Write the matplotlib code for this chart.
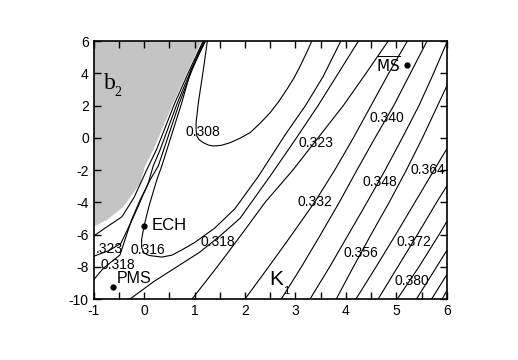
import matplotlib
matplotlib.use("Agg")
import matplotlib.pyplot as plt

plt.rcParams['font.family'] = ['Liberation Sans', 'DejaVu Sans']
plt.rcParams['axes.unicode_minus'] = False

# ---- data ----
x_ticks = [-1, 0, 1, 2, 3, 4, 5, 6]
y_ticks = [-10, -8, -6, -4, -2, 0, 2, 4, 6]

# forbidden (gray) region boundary
gray_x = [-1, 1.14, 0.58, 0.18, 0.02, -0.08, -0.41, -0.74, -1.0]
gray_y = [6, 6, 2.17, -0.76, -1.75, -2.83, -4.28, -5.1, -5.52]

# contour 0.308 (U shaped valley)
c308_x = [1.254, 1.175, 1.075, 1.03, 1.03, 1.044, 1.09, 1.175, 1.27, 1.373, 1.53, 1.704, 1.9, 2.10,
          2.3, 2.498, 2.67, 2.83, 2.97, 3.095, 3.21, 3.325]
c308_y = [6.0, 4.245, 2.17, 0.93, 0.5, 0.109, -0.12, -0.307, -0.45, -0.512, -0.47, -0.307, -0.03, 0.313,
          0.9, 1.553, 2.25, 3.0, 3.7, 4.45, 5.2, 6.0]

# contour 0.316 (through ECH)
c316_x = [1.22, 0.93, 0.746, 0.45, 0.35, 0.25, 0.1, 0.0, -0.05, -0.05, 0.0, 0.1, 0.35, 0.55, 0.75, 1.0,
          1.4, 1.8, 2.27, 2.8, 3.2, 3.55, 3.9]
c316_y = [6.0, 4.2, 2.17, -0.76, -1.75, -2.62, -4.2, -5.45, -6.3, -6.8, -7.15, -7.3, -7.4, -7.28, -6.95, -6.5,
          -5.6, -4.4, -2.37, 0.2, 2.0, 3.8, 6.0]

# contour 0.318, left piece
c318a_x = [-1.0, -0.81, -0.48, -0.25, -0.08, 0.117, 0.28, 0.70, 0.95, 1.2]
c318a_y = [-8.8, -8.1, -7.27, -5.1, -3.86, -2.62, -1.75, 2.17, 4.2, 6.0]
# contour 0.318, right piece
c318b_x = [-0.28, 0.2, 0.7, 1.1, 1.5, 1.9, 2.5, 3.0, 3.45, 3.85, 4.25]
c318b_y = [-10.0, -8.9, -7.9, -7.1, -6.1, -5.0, -2.37, -0.1, 2.0, 4.0, 6.0]

# contour 0.323, left piece
c323a_x = [-1.0, -0.7, -0.46, -0.21, 0.08, 0.18, 0.315, 0.66, 0.93, 1.18]
c323a_y = [-7.35, -7.0, -6.55, -4.9, -2.83, -1.75, -0.76, 2.17, 4.2, 6.0]
# contour 0.323, right piece
c323b_x = [0.95, 1.45, 1.93, 2.4, 2.95, 3.45, 3.95, 4.4, 4.84]
c323b_y = [-10, -8, -6, -4, -2, 0, 2, 4, 6]

# outer unlabeled line next to the gray region
c330_x = [-1.0, -0.75, -0.44, -0.2, 0.05, 0.25, 0.61, 0.9, 1.17]
c330_y = [-6.09, -5.55, -4.9, -3.7, -2.0, -0.7, 2.17, 4.2, 6.0]

c332_x = [2.00, 2.47, 2.93, 3.38, 3.78, 4.15, 4.5, 4.85, 5.22]
c332_y = [-10, -8, -6, -4, -2, 0, 2, 4, 6]

c340_x = [2.72, 3.12, 3.5, 3.87, 4.22, 4.58, 4.95, 5.28, 5.61]
c340_y = [-10, -8, -6, -4, -2, 0, 2, 4, 6]

c348_x = [3.29, 3.68, 4.05, 4.42, 4.78, 5.12, 5.45, 5.74, 6.0]
c348_y = [-10, -8, -6, -4, -2, 0, 2, 4, 5.9]

c356_x = [3.81, 4.15, 4.5, 4.86, 5.2, 5.52, 5.82, 6.0]
c356_y = [-10, -8, -6, -4, -2, 0, 2, 3.2]

c364_x = [4.20, 4.6, 4.99, 5.37, 5.75, 6.0]
c364_y = [-10, -8, -6, -4, -2, -0.7]

c372_x = [4.64, 5.03, 5.42, 5.8, 6.0]
c372_y = [-10, -8, -6, -4, -3.0]

c380_x = [5.02, 5.45, 5.85, 6.0]
c380_y = [-10, -8, -6, -5.2]

c388_x = [5.40, 5.8, 6.0]
c388_y = [-10, -8, -7.0]

c396_x = [5.70, 6.0]
c396_y = [-10, -8.5]

c404_x = [5.91, 6.0]
c404_y = [-10, -9.5]

# contour labels: text, x, y
label_text = ["0.308", "0.316", ".323", "0.318", "0.318", "0.323", "0.332", "0.340",
              "0.348", "0.356", "0.364", "0.372", "0.380"]
label_x = [1.16, 0.08, -0.69, -0.528, 1.456, 3.41, 3.39, 4.81, 4.665, 4.30, 5.62, 5.34, 5.31]
label_y = [0.38, -6.95, -6.9, -7.89, -6.45, -0.3, -3.97, 1.24, -2.72, -7.15, -2.0, -6.45, -8.88]

# special points
pt_names = ["PMS", "ECH", "MS"]
pt_x = [-0.623, 0.0, 5.21]
pt_y = [-9.27, -5.47, 4.49]

# ---- figure ----
fig = plt.figure(figsize=(5.18, 3.60), dpi=100)
ax = fig.add_axes([0.1809, 0.1694, 0.8624 - 0.1809, 0.8861 - 0.1694])

ax.fill(gray_x, gray_y, color='#c4c4c4', lw=0, zorder=1)

lines = [(c308_x, c308_y), (c316_x, c316_y), (c318a_x, c318a_y), (c318b_x, c318b_y),
         (c323a_x, c323a_y), (c323b_x, c323b_y), (c330_x, c330_y), (c332_x, c332_y),
         (c340_x, c340_y), (c348_x, c348_y), (c356_x, c356_y), (c364_x, c364_y),
         (c372_x, c372_y), (c380_x, c380_y), (c388_x, c388_y), (c396_x, c396_y),
         (c404_x, c404_y)]
for lx, ly in lines:
    ax.plot(lx, ly, color='black', lw=0.8, zorder=2, solid_joinstyle='round')

for t, lx, ly in zip(label_text, label_x, label_y):
    ax.text(lx, ly, t, fontsize=10, ha='center', va='center', zorder=3)

ax.plot(pt_x, pt_y, 'o', color='black', ms=3.5, zorder=4)
ax.text(pt_x[0] + 0.08, pt_y[0] + 0.1, pt_names[0], fontsize=11.5, ha='left', va='bottom')
ax.text(pt_x[1] + 0.14, pt_y[1], pt_names[1], fontsize=12, ha='left', va='center')
ax.text(pt_x[2] - 0.12, pt_y[2], r'$\overline{\mathrm{MS}}$', fontsize=11, ha='right', va='center')

ax.text(-0.80, 3.05, 'b', family='Liberation Serif', fontsize=17, ha='left', va='baseline')
ax.text(-0.59, 2.6, '2', family='Liberation Serif', fontsize=10, ha='left', va='baseline')
ax.text(2.48, -9.15, 'K', fontsize=15, ha='left', va='baseline')
ax.text(2.76, -9.7, '1', fontsize=8, ha='left', va='baseline')

ax.set_xlim(-1, 6)
ax.set_ylim(-10, 6)
ax.set_xticks(x_ticks)
ax.set_yticks(y_ticks)
ax.set_xticks([v + 0.5 for v in x_ticks[:-1]], minor=True)
ax.tick_params(which='both', direction='in', top=True, right=True, width=1.0, labelsize=10)
ax.tick_params(which='major', length=5)
ax.tick_params(which='minor', length=5)
for s in ax.spines.values():
    s.set_linewidth(1.2)

fig.savefig('out.png', dpi=100)
